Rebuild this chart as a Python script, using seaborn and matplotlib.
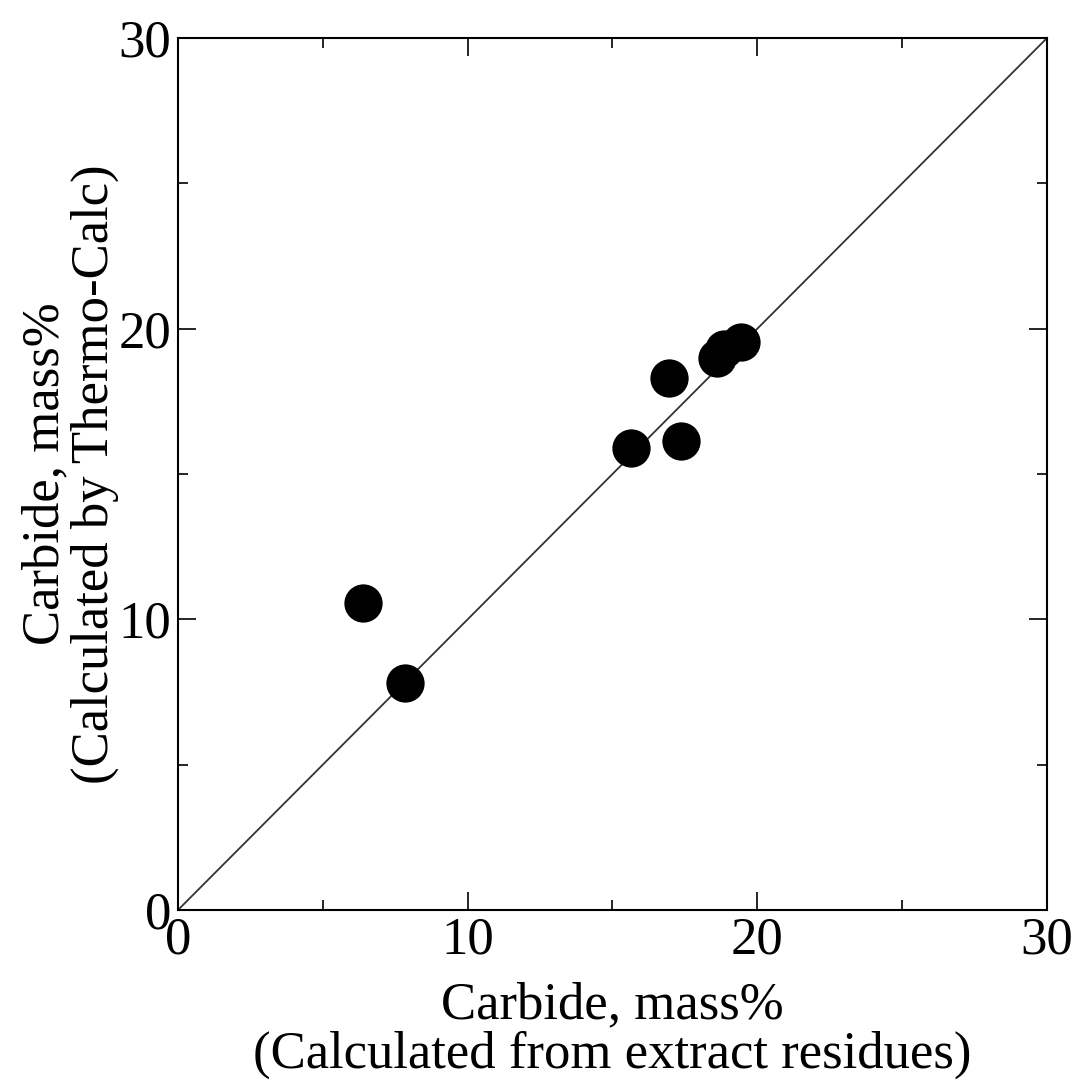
import matplotlib.pyplot as plt
import seaborn as sns
import pandas as pd
from matplotlib.ticker import MultipleLocator

# carbide content, mass%
extract_residue = [6.4, 7.85, 15.65, 16.95, 17.35, 18.6, 18.85, 19.45]
thermo_calc = [10.55, 7.8, 15.9, 18.3, 16.15, 19.0, 19.3, 19.55]

df = pd.DataFrame({"extract": extract_residue, "thermo": thermo_calc})

sns.set_theme(style="white")
plt.rcParams["font.family"] = ["Liberation Serif", "DejaVu Serif"]
plt.rcParams["text.color"] = "black"
plt.rcParams["axes.labelcolor"] = "black"
plt.rcParams["xtick.color"] = "black"
plt.rcParams["ytick.color"] = "black"

fig = plt.figure(figsize=(10.8, 10.88), dpi=100)
ax = fig.add_axes([0.1648, 0.1636, 0.8046, 0.8014])

ax.axline((0, 0), slope=1, color="#333333", lw=1.3, zorder=1)
sns.scatterplot(data=df, x="extract", y="thermo", ax=ax, s=760,
                color="black", edgecolor="black", linewidth=0, zorder=2)

ax.set_xlim(0, 30)
ax.set_ylim(0, 30)
ax.xaxis.set_major_locator(MultipleLocator(10))
ax.yaxis.set_major_locator(MultipleLocator(10))
ax.xaxis.set_minor_locator(MultipleLocator(5))
ax.yaxis.set_minor_locator(MultipleLocator(5))
ax.tick_params(which="both", direction="in", top=True, right=True,
               bottom=True, left=True, color="black", width=1.2)
ax.tick_params(which="major", length=13, labelsize=38, pad=5)
ax.tick_params(which="minor", length=7)
for sp in ax.spines.values():
    sp.set_color("black")
    sp.set_linewidth(1.5)

ax.set_xlabel("Carbide, mass%\n(Calculated from extract residues)",
              fontsize=38, linespacing=1.03)
ax.set_ylabel("Carbide, mass%\n(Calculated by Thermo-Calc)",
              fontsize=38, linespacing=1.03)
ax.xaxis.set_label_coords(0.5, -0.082)
ax.yaxis.set_label_coords(-0.068, 0.5)

fig.savefig("out.png", dpi=100)
